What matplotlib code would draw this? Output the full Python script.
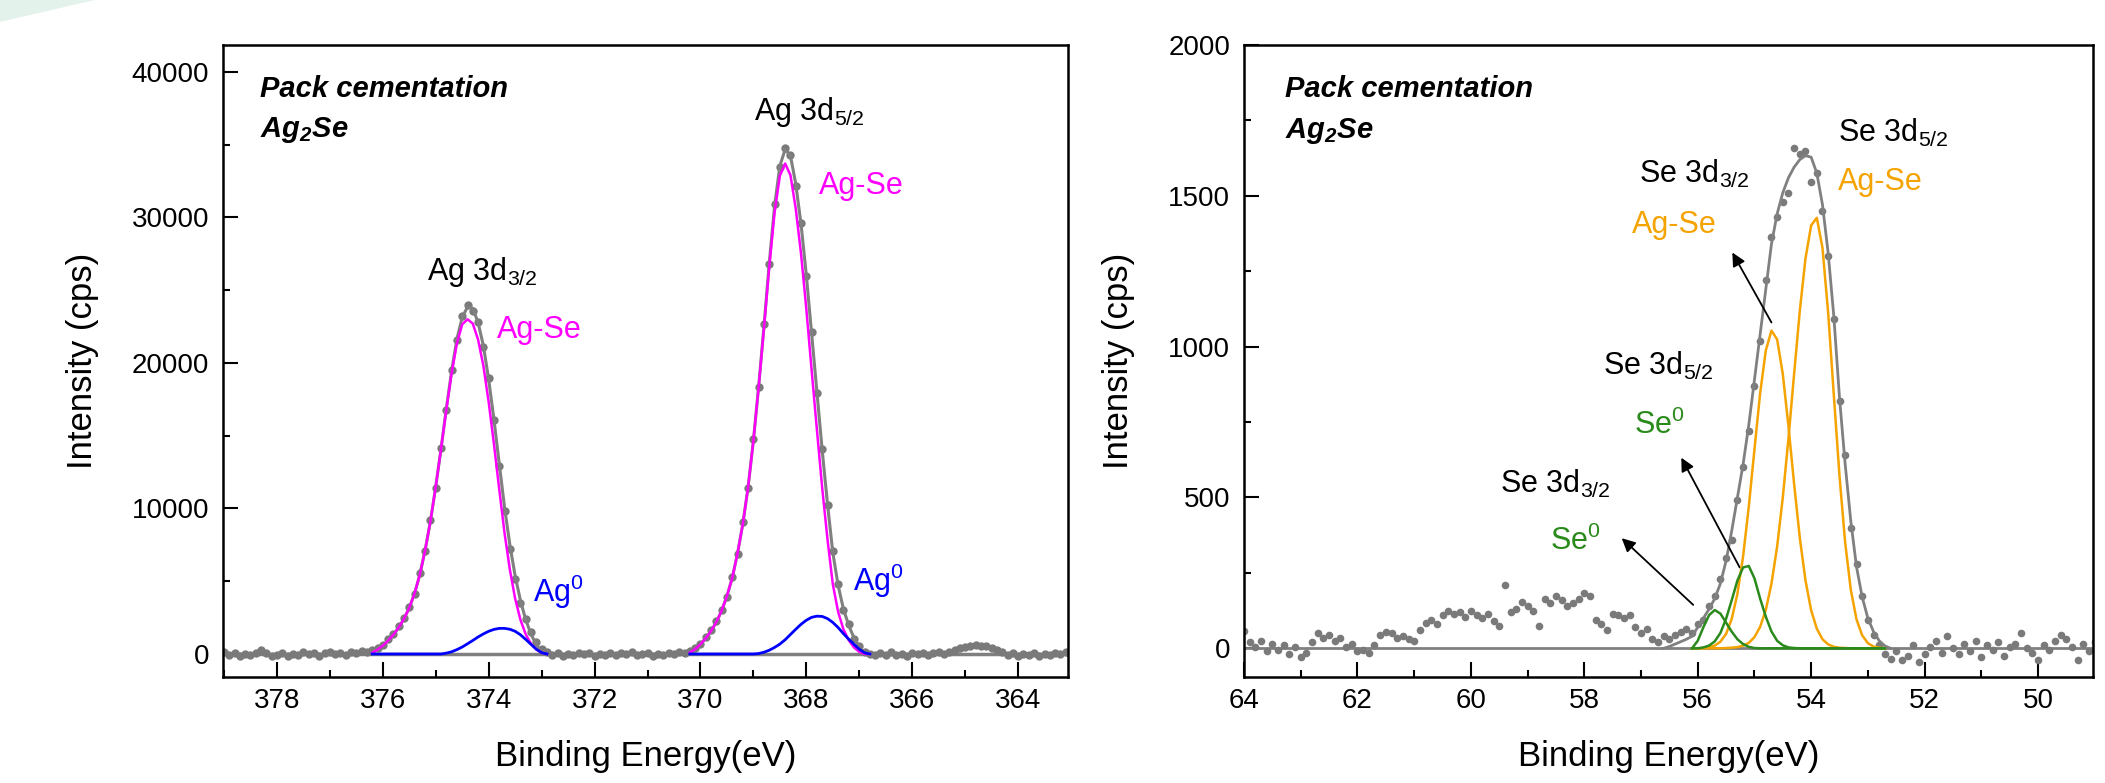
import numpy as np
import matplotlib
matplotlib.use("Agg")
import matplotlib.pyplot as plt
from matplotlib.patches import Polygon
from matplotlib.ticker import MultipleLocator

plt.rcParams['font.family'] = ['Liberation Sans', 'DejaVu Sans']
plt.rcParams['mathtext.fontset'] = 'custom'
plt.rcParams['mathtext.rm'] = 'Liberation Sans'
plt.rcParams['mathtext.it'] = 'Liberation Sans:italic'
plt.rcParams['mathtext.bf'] = 'Liberation Sans:italic:bold'

# ---------------- Ag 3d region (left panel) ----------------
ag_be = np.round(np.arange(379.0, 362.95, -0.1), 1)          # 379.0 ... 363.0 eV
ag_counts = [
    120, -80, 60, -150, 30, -60, 90, 260, 40, -110,
    -40, 70, -130, 20, -60, 110, -20, 40, -140, 50,
    130, -30, 80, -90, 150, 60, 180, 120, 260, 420,
    640, 1010, 1380, 1900, 2480, 3230, 4120, 5540, 7080, 9210,
    11430, 14180, 16790, 19540, 21580, 23210, 23980, 23560, 22840, 21100,
    18930, 16060, 12900, 9840, 7200, 5180, 3500, 2390, 1480, 800,
    330, 120, -40, 60, -120, 30, -70, 100, -30, 50,
    -150, 20, -60, 80, -100, 40, -20, 110, -80, 10,
    60, -130, 30, -50, 90, 10, 140, 80, 220, 430,
    720, 1150, 1640, 2260, 3050, 3920, 5310, 6840, 9050, 11390,
    14780, 18320, 22650, 26790, 30890, 33460, 34750, 34290, 32180, 29620,
    25940, 22110, 17930, 14060, 10220, 7050, 4810, 3020, 2040, 1050,
    560, 150, 20, -90, 70, -40, 120, -70, 30, -110,
    60, -20, 90, -60, 40, 120, 10, 160, 240, 380,
    470, 560, 610, 580, 520, 410, 260, 120, -40, 70,
    -120, 30, -60, 90, -150, 20, -80, 60, -30, 110,
    -50,
]

# Ag 3d3/2 fit (376.2 ... 372.9 eV)
ag32_be = np.round(np.arange(376.2, 372.85, -0.1), 1)
ag32_agse = [80, 300, 570, 920, 1320, 1820, 2420, 3170, 4160, 5460, 7140, 9130,
             11500, 14100, 16800, 19300, 21350, 22650, 23000, 22700, 21600, 19800,
             17300, 14400, 11300, 8300, 5800, 3800, 2350, 1350, 700, 300, 80, 0]
ag32_ag0 = [0, 0, 0, 0, 0, 0, 0, 0, 0, 0, 0, 0, 0,
            0, 60, 150, 300, 480, 700, 930, 1170, 1380, 1560, 1690, 1760, 1760,
            1700, 1560, 1320, 1000, 660, 330, 90, 0]
ag32_env = [80, 300, 570, 920, 1320, 1820, 2420, 3170, 4160, 5460, 7140, 9130,
            11500, 14100, 16860, 19450, 21650, 23130, 23850, 23750, 22770, 21180,
            18860, 16090, 13060, 10060, 7500, 5360, 3670, 2350, 1360, 630, 170, 0]

# Ag 3d5/2 fit (370.2 ... 366.8 eV)
ag52_be = np.round(np.arange(370.2, 366.75, -0.1), 1)
ag52_agse = [100, 340, 670, 1080, 1580, 2190, 2970, 3980, 5220, 6910, 8930, 11460,
             14660, 18370, 22410, 26620, 30330, 32860, 33700, 32900, 30600, 27500,
             23700, 19500, 15400, 11400, 7870, 4800, 2900, 1700, 950, 450, 150, 0, 0]
ag52_ag0 = [0, 0, 0, 0, 0, 0, 0, 0, 0, 0, 0, 0, 0,
            30, 120, 260, 450, 680, 980, 1340, 1700, 2040, 2320, 2520, 2600, 2580,
            2430, 2170, 1820, 1400, 1020, 660, 330, 80, 0]
ag52_env = [100, 340, 670, 1080, 1580, 2190, 2970, 3980, 5220, 6910, 8930, 11460,
            14660, 18400, 22530, 26880, 30780, 33540, 34680, 34240, 32300, 29540,
            26020, 22020, 18000, 13980, 10300, 6970, 4720, 3100, 1970, 1110, 480, 80, 0]

# ---------------- Se 3d region (right panel) ----------------
se_be = np.round(np.arange(64.0, 48.95, -0.1), 1)             # 64.0 ... 49.0 eV
se_counts = [
    58, 20, 5, 25, -10, 15, -5, 10, -20, 5,
    -30, -15, 20, 50, 35, 45, 25, 35, 5, 15,
    -10, -5, -15, 10, 45, 55, 50, 35, 40, 30,
    25, 60, 85, 95, 80, 110, 125, 115, 120, 105,
    125, 110, 100, 115, 90, 75, 210, 120, 130, 155,
    140, 125, 75, 165, 150, 175, 160, 140, 150, 165,
    185, 175, 95, 80, 60, 115, 110, 100, 110, 70,
    50, 65, 30, 20, 40, 30, 45, 55, 65, 50,
    80, 95, 140, 175, 230, 300, 360, 490, 600, 720,
    870, 1020, 1220, 1365, 1430, 1480, 1510, 1660, 1640, 1650,
    1545, 1575, 1450, 1300, 1090, 820, 640, 400, 280, 175,
    95, 45, 10, -20, -35, -10, -40, -25, 10, -45,
    -20, 5, 25, -15, 40, 0, -20, 15, -10, 25,
    -30, 10, -5, 20, -25, 5, 15, 50, 0, -15,
    -40, 10, -5, 25, 45, 30, 5, -40, 15, -10,
    20,
]

se_env_be = np.round(np.arange(56.6, 52.55, -0.1), 1)         # 56.6 ... 52.6 eV
se_env = [0, 6, 14, 22, 30, 40, 70, 100, 130, 165,
          215, 290, 390, 500, 610, 740, 890, 1040, 1190, 1340,
          1440, 1510, 1560, 1595, 1620, 1633, 1628, 1575, 1470, 1310,
          1100, 830, 610, 420, 270, 170, 100, 55, 25, 8, 0]

se_fit_be = np.round(np.arange(56.1, 52.65, -0.1), 1)          # 56.1 ... 52.7 eV
se0_32 = [0, 25, 70, 110, 127, 115, 85, 55, 30, 14, 5, 1,
          0, 0, 0, 0, 0, 0, 0, 0, 0, 0, 0, 0, 0, 0, 0, 0, 0, 0, 0, 0, 0, 0, 0]
se0_52 = [0, 0, 3, 9, 23, 51, 98, 160, 225, 268, 273, 232, 165, 105, 56, 25, 10, 3, 1,
          0, 0, 0, 0, 0, 0, 0, 0, 0, 0, 0, 0, 0, 0, 0, 0]
agse_32 = [0, 0, 1, 3, 9, 22, 48, 98, 181, 305, 469, 659, 845, 987, 1053, 1024, 909,
           736, 544, 366, 225, 126, 65, 30, 13, 5, 2, 1, 0, 0, 0, 0, 0, 0, 0]
agse_52 = [0, 0, 0, 0, 0, 0, 1, 2, 4, 9, 18, 37, 71, 127, 214, 337, 500, 696, 911,
           1119, 1292, 1402, 1427, 1327, 1112, 839, 571, 350, 193, 96, 43, 17, 6, 2, 0]

GREY = '#808080'
MAGENTA = '#ff00ff'
BLUE = '#0000ff'
ORANGE = '#f5a300'
GREEN = '#2a8a1c'

fig = plt.figure(figsize=(21.05, 7.83), dpi=100)
fig.add_artist(Polygon([(0, 1), (0.045, 1), (0, 0.972)], closed=True,
                       transform=fig.transFigure, facecolor='#e3f2ea', edgecolor='none'))
ax1 = fig.add_axes([0.1059, 0.1354, 0.4014, 0.8072])
ax2 = fig.add_axes([0.5910, 0.1354, 0.4033, 0.8072])

# left panel
ax1.axhline(0, color=GREY, lw=2.5, zorder=2)
ax1.plot(ag_be, ag_counts, 'o', ms=6, color='#7a7a7a', mec='none', zorder=2)
ax1.plot(ag32_be, ag32_env, color=GREY, lw=2.2, zorder=3)
ax1.plot(ag52_be, ag52_env, color=GREY, lw=2.2, zorder=3)
ax1.plot(ag32_be, ag32_agse, color=MAGENTA, lw=1.8, zorder=4)
ax1.plot(ag52_be, ag52_agse, color=MAGENTA, lw=1.8, zorder=4)
ax1.plot(ag32_be, ag32_ag0, color=BLUE, lw=2.0, zorder=5)
ax1.plot(ag52_be, ag52_ag0, color=BLUE, lw=2.0, zorder=5)

ax1.set_xlim(379.02, 363.06)
ax1.set_ylim(-1580, 41850)
ax1.xaxis.set_major_locator(MultipleLocator(2))
ax1.xaxis.set_minor_locator(MultipleLocator(1))
ax1.yaxis.set_major_locator(MultipleLocator(10000))
ax1.yaxis.set_minor_locator(MultipleLocator(5000))

tfs = 22
ax1.text(378.32, 38280, 'Pack cementation', fontsize=21, fontweight='bold', style='italic')
ax1.text(378.32, 35510, r'Ag$_{\mathbf{2}}$Se', fontsize=21, fontweight='bold', style='italic')
ax1.text(375.17, 25700, r'Ag 3d$_{3/2}$', fontsize=tfs)
ax1.text(373.85, 21700, 'Ag-Se', fontsize=tfs, color=MAGENTA)
ax1.text(373.16, 3600, r'Ag$^{0}$', fontsize=tfs, color=BLUE)
ax1.text(368.99, 36700, r'Ag 3d$_{5/2}$', fontsize=tfs)
ax1.text(367.76, 31630, 'Ag-Se', fontsize=tfs, color=MAGENTA)
ax1.text(367.12, 4330, r'Ag$^{0}$', fontsize=tfs, color=BLUE)

# right panel
ax2.axhline(0, color=GREY, lw=2.0, zorder=2)
ax2.plot(se_be, se_counts, 'o', ms=5.5, color='#7a7a7a', mec='none', zorder=2)
ax2.plot(se_env_be, se_env, color=GREY, lw=2.0, zorder=3)
ax2.plot(se_fit_be, agse_52, color=ORANGE, lw=1.8, zorder=4)
ax2.plot(se_fit_be, agse_32, color=ORANGE, lw=1.8, zorder=4)
ax2.plot(se_fit_be, se0_52, color=GREEN, lw=1.8, zorder=5)
ax2.plot(se_fit_be, se0_32, color=GREEN, lw=1.8, zorder=5)

ax2.set_xlim(64, 49.03)
ax2.set_ylim(-95, 2000)
ax2.xaxis.set_major_locator(MultipleLocator(2))
ax2.xaxis.set_minor_locator(MultipleLocator(1))
ax2.yaxis.set_major_locator(MultipleLocator(500))
ax2.yaxis.set_minor_locator(MultipleLocator(250))

ax2.text(63.28, 1828, 'Pack cementation', fontsize=21, fontweight='bold', style='italic')
ax2.text(63.28, 1690, r'Ag$_{\mathbf{2}}$Se', fontsize=21, fontweight='bold', style='italic')
ax2.text(53.52, 1678, r'Se 3d$_{5/2}$', fontsize=tfs)
ax2.text(53.52, 1519, 'Ag-Se', fontsize=tfs, color=ORANGE)
ax2.text(57.04, 1544, r'Se 3d$_{3/2}$', fontsize=tfs)
ax2.text(57.16, 1375, 'Ag-Se', fontsize=tfs, color=ORANGE)
ax2.text(57.67, 906, r'Se 3d$_{5/2}$', fontsize=tfs)
ax2.text(57.12, 710, r'Se$^{0}$', fontsize=tfs, color=GREEN)
ax2.text(59.49, 516, r'Se 3d$_{3/2}$', fontsize=tfs)
ax2.text(58.61, 326, r'Se$^{0}$', fontsize=tfs, color=GREEN)

arrow = dict(arrowstyle='-|>', color='black', lw=1.3, mutation_scale=20,
             shrinkA=0, shrinkB=0)
ax2.annotate('', xy=(55.39, 1312), xytext=(54.70, 1080), arrowprops=arrow)
ax2.annotate('', xy=(56.29, 632), xytext=(55.26, 268), arrowprops=arrow)
ax2.annotate('', xy=(57.34, 365), xytext=(56.08, 144), arrowprops=arrow)

for ax, lx in ((ax1, -0.147), (ax2, -0.129)):
    for s in ax.spines.values():
        s.set_linewidth(1.8)
    ax.tick_params(which='both', direction='in', top=False, right=False,
                   labelsize=20, width=1.5)
    ax.tick_params(which='major', length=11)
    ax.tick_params(which='minor', length=5)
    ax.tick_params(axis='y', pad=10)
    ax.tick_params(axis='x', pad=8)
    ax.set_xlabel('Binding Energy(eV)', fontsize=25)
    ax.set_ylabel('Intensity (cps)', fontsize=25)
    ax.xaxis.set_label_coords(0.5, -0.100)
    ax.yaxis.set_label_coords(lx, 0.5)

fig.savefig('out.png', dpi=100)
